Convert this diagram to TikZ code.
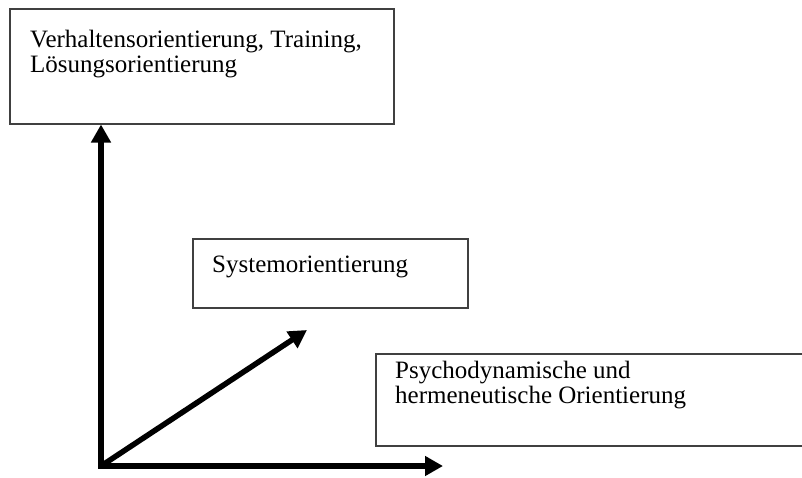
\documentclass[tikz,border=0pt]{standalone}
\usepackage{fontspec}
\setmainfont{Liberation Serif}
\usetikzlibrary{positioning,arrows.meta}
\tikzset{
    every node/.style={
        font=\fontsize{25}{25}\selectfont
    },
    block/.style={
        shape=rectangle,
        draw=black!75,
        line width=1.5pt,
        anchor=north west,
        inner sep=0pt
    },
    blocktext/.style={
        anchor=north west,
        align=left,
        inner sep=0pt
    },
    axis/.style={
        line width=5.5pt,
        -{Triangle[length=18pt,width=19pt]}
    }
}

\begin{document}
\begin{tikzpicture}[x=1pt,y=-1pt]
		\useasboundingbox (0,0) rectangle (802,477);
		\clip (0,0) rectangle (802,477);
		\node (verh) at (9,8) [block, minimum width=384pt, minimum height=115pt] {};
		\node (verhtext) [blocktext, below right=21.5pt and 21pt of verh.north west] {Verhaltensorientierung, Training,\\L\"osungsorientierung};
		\node (sys) at (192,238) [block, minimum width=275pt, minimum height=69pt] {};
		\node (systext) [blocktext, below right=17.5pt and 20pt of sys.north west] {Systemorientierung};
		\node (psy) at (375,353) [block, minimum width=440pt, minimum height=92pt] {};
		\node (psytext) [blocktext, below right=7.5pt and 20pt of psy.north west] {Psychodynamische und\\hermeneutische Orientierung};
		\coordinate (origin) at (101,466);
		\coordinate (xend) at (443,466);
		\coordinate (dend) at (307,330);
		% Axes
		\draw [axis] (origin) -- (origin |- verh.south);
		\draw [axis] ([xshift=-2.75pt]origin) -- (xend);
		\draw [axis] (origin) -- (dend);
	\end{tikzpicture}
\end{document}
